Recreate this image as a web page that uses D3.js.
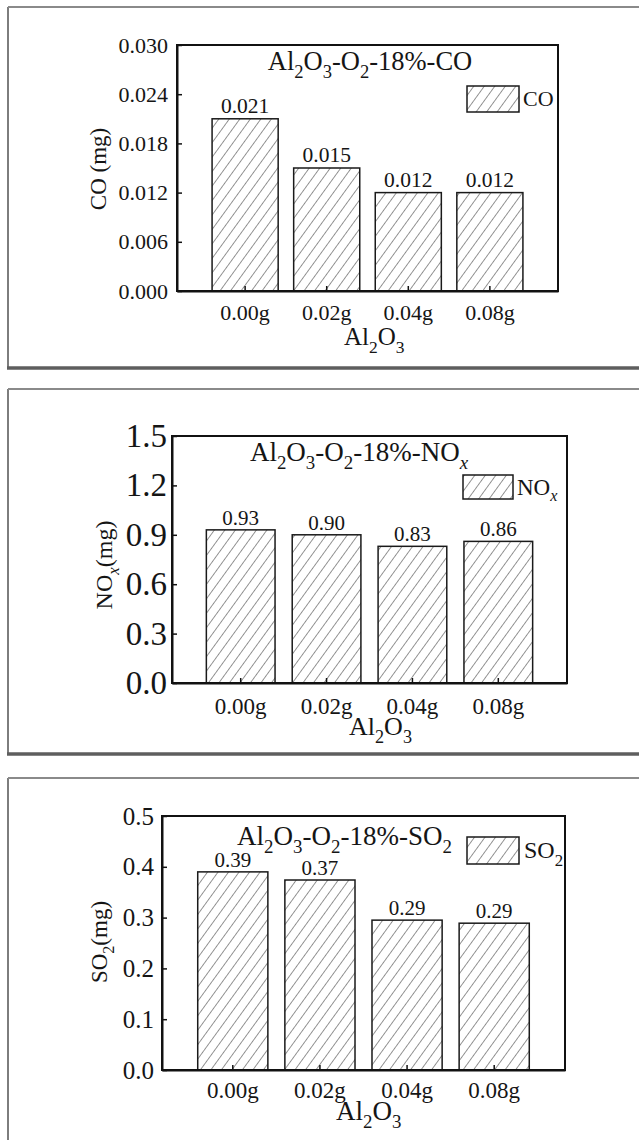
<!DOCTYPE html>
<html><head><meta charset="utf-8">
<script src="https://cdn.jsdelivr.net/npm/d3@7"></script>
<style>
body{margin:0;background:#fff}
text{font-family:"Liberation Serif","Times New Roman",serif;fill:#151515}
</style>
</head><body>
<svg id="c" width="639" height="1140"></svg>
<script>
// ---------- data ----------
const categories = ["0.00g", "0.02g", "0.04g", "0.08g"];
const coValues  = [0.021, 0.015, 0.012, 0.012];
const coLabels  = ["0.021", "0.015", "0.012", "0.012"];
const coTicks   = [0, 0.006, 0.012, 0.018, 0.024, 0.030];
const noxValues = [0.93, 0.90, 0.83, 0.86];
const noxLabels = ["0.93", "0.90", "0.83", "0.86"];
const noxTicks  = [0, 0.3, 0.6, 0.9, 1.2, 1.5];
const so2Values = [0.39, 0.374, 0.295, 0.289];
const so2Labels = ["0.39", "0.37", "0.29", "0.29"];
const so2Ticks  = [0, 0.1, 0.2, 0.3, 0.4, 0.5];

const S = 1.0; // horizontal text scale

const svg = d3.select("#c");
const defs = svg.append("defs");
defs.append("pattern").attr("id", "hatch").attr("patternUnits", "userSpaceOnUse")
  .attr("width", 8.5).attr("height", 8.5).attr("patternTransform", "rotate(36)")
  .append("line").attr("x1", 0).attr("y1", 0).attr("x2", 0).attr("y2", 8.5)
  .attr("stroke", "#2a2a2a").attr("stroke-width", 1);

function rich(g, parts, fs) {
  const t = g.append("text").attr("font-size", fs);
  let shift = 0;
  parts.forEach(([s, k]) => {
    const sub = k && k.includes("s");
    const target = sub ? 0.3 * fs : 0;
    const ts = t.append("tspan").text(s).attr("dy", target - shift);
    shift = target;
    if (sub) ts.attr("font-size", 0.7 * fs);
    if (k && k.includes("i")) ts.attr("font-style", "italic");
  });
  return t;
}
function place(x, y, extra) {
  return svg.append("g").attr("transform", `translate(${x},${y}) scale(${S},1)` + (extra || ""));
}

const panels = [
  { values: coValues, labels: coLabels, ticks: coTicks, fmt: ".3f", domain: [0, 0.030],
    frame: { top: 7, bottom: 368 }, plot: { l: 177, r: 558, t: 45, b: 291 },
    pin: 0.19, pout: 0.43, tickFs: 22, tickPad: 9, barFs: 21.5, barGap: 6,
    title: [["Al"],["2","s"],["O"],["3","s"],["-O"],["2","s"],["-18%-CO"]], titleFs: 26.5, titleX: 370, titleY: 70,
    leg: [467, 86, 52, 26], legText: [["CO"]], legFs: 22, legX: 523,
    ylab: [["CO (mg)"]], ylabX: 106, ylabY: 169, ylabFs: 23,
    xtickFs: 22, xtickBase: 320, xlabX: 344, xlabY: 345, xlabFs: 25 },
  { values: noxValues, labels: noxLabels, ticks: noxTicks, fmt: ".1f", domain: [0, 1.5],
    frame: { top: 389, bottom: 754 }, plot: { l: 172, r: 567, t: 436, b: 683 },
    pin: 0.2, pout: 0.40, tickFs: 33, tickPad: 5, barFs: 21, barGap: 5,
    title: [["Al"],["2","s"],["O"],["3","s"],["-O"],["2","s"],["-18%-NO"],["x","si"]], titleFs: 27, titleX: 359, titleY: 461,
    leg: [463, 475, 50, 24], legText: [["NO"],["x","si"]], legFs: 23, legX: 517,
    ylab: [["NO"],["x","si"],["(mg)"]], ylabX: 112, ylabY: 565, ylabFs: 24,
    xtickFs: 23, xtickBase: 714, xlabX: 349, xlabY: 735, xlabFs: 26 },
  { values: so2Values, labels: so2Labels, ticks: so2Ticks, fmt: ".1f", domain: [0, 0.5],
    frame: { top: 778, bottom: null }, plot: { l: 162, r: 565, t: 816, b: 1070 },
    pin: 0.195, pout: 0.41, tickFs: 25, tickPad: 8, barFs: 21, barGap: 5,
    title: [["Al"],["2","s"],["O"],["3","s"],["-O"],["2","s"],["-18%-SO"],["2","s"]], titleFs: 27, titleX: 344.5, titleY: 845,
    leg: [467, 837, 52, 27], legText: [["SO"],["2","s"]], legFs: 24, legX: 524,
    ylab: [["SO"],["2","s"],["(mg)"]], ylabX: 107, ylabY: 942, ylabFs: 23,
    xtickFs: 23, xtickBase: 1098, xlabX: 336, xlabY: 1120, xlabFs: 27 }
];

panels.forEach(p => {
  // outer frame (screenshot border)
  const fb = p.frame.bottom == null ? 1145 : p.frame.bottom;
  svg.append("line").attr("x1", 8).attr("x2", 8).attr("y1", p.frame.top).attr("y2", fb)
    .attr("stroke", "#7d7d7d").attr("stroke-width", 2);
  svg.append("line").attr("x1", 8).attr("x2", 645).attr("y1", p.frame.top).attr("y2", p.frame.top)
    .attr("stroke", "#8a8a8a").attr("stroke-width", 2);
  if (p.frame.bottom != null)
    svg.append("line").attr("x1", 7).attr("x2", 645).attr("y1", fb).attr("y2", fb)
      .attr("stroke", "#5e5e5e").attr("stroke-width", 3.5);

  const P = p.plot;
  const x = d3.scaleBand().domain(categories).range([P.l, P.r]).paddingInner(p.pin).paddingOuter(p.pout);
  const y = d3.scaleLinear().domain(p.domain).range([P.b, P.t]);

  // bars
  svg.append("g").selectAll("rect").data(p.values).join("rect")
    .attr("x", (d, i) => x(categories[i])).attr("width", x.bandwidth())
    .attr("y", d => y(d)).attr("height", d => y(0) - y(d))
    .attr("fill", "url(#hatch)").attr("stroke", "#1a1a1a").attr("stroke-width", 1.5);

  // bar value labels
  p.values.forEach((v, i) => {
    const g = place(x(categories[i]) + x.bandwidth() / 2, y(v) - p.barGap);
    g.append("text").attr("font-size", p.barFs).attr("text-anchor", "middle").text(p.labels[i]);
  });

  // axes
  const ya = svg.append("g").attr("transform", `translate(${P.l},0)`)
    .call(d3.axisLeft(y).tickValues(p.ticks).tickFormat(d3.format(p.fmt)).tickSizeInner(-5).tickSizeOuter(0).tickPadding(p.tickPad / S));
  ya.selectAll(".tick text").attr("font-size", p.tickFs).attr("transform", `scale(${S},1)`).attr("fill", "#151515")
    .style("font-family", '"Liberation Serif","Times New Roman",serif');
  const xa = svg.append("g").attr("transform", `translate(0,${P.b})`)
    .call(d3.axisBottom(x).tickSizeInner(-5).tickSizeOuter(0).tickPadding(p.xtickBase - P.b - 0.71 * p.xtickFs));
  xa.selectAll(".tick text").attr("font-size", p.xtickFs).attr("transform", `scale(${S},1)`).attr("fill", "#151515")
    .style("font-family", '"Liberation Serif","Times New Roman",serif');
  svg.selectAll(".domain").attr("stroke", "#111").attr("stroke-width", 2);
  svg.selectAll(".tick line").attr("stroke", "#111").attr("stroke-width", 1.5);

  // plot box
  svg.append("rect").attr("x", P.l).attr("y", P.t).attr("width", P.r - P.l).attr("height", P.b - P.t)
    .attr("fill", "none").attr("stroke", "#111").attr("stroke-width", 2);

  // title
  rich(place(p.titleX, p.titleY), p.title, p.titleFs).attr("text-anchor", "middle");

  // legend
  const [lx, ly, lw, lh] = p.leg;
  svg.append("rect").attr("x", lx).attr("y", ly).attr("width", lw).attr("height", lh)
    .attr("fill", "url(#hatch)").attr("stroke", "#1a1a1a").attr("stroke-width", 1.5);
  rich(place(p.legX, ly + lh / 2 + 0.33 * p.legFs), p.legText, p.legFs);

  // y label
  rich(place(p.ylabX, p.ylabY, " rotate(-90)"), p.ylab, p.ylabFs).attr("text-anchor", "middle");

  // x label
  rich(place(p.xlabX, p.xlabY), [["Al"],["2","s"],["O"],["3","s"]], p.xlabFs);
});
</script>
</body></html>
